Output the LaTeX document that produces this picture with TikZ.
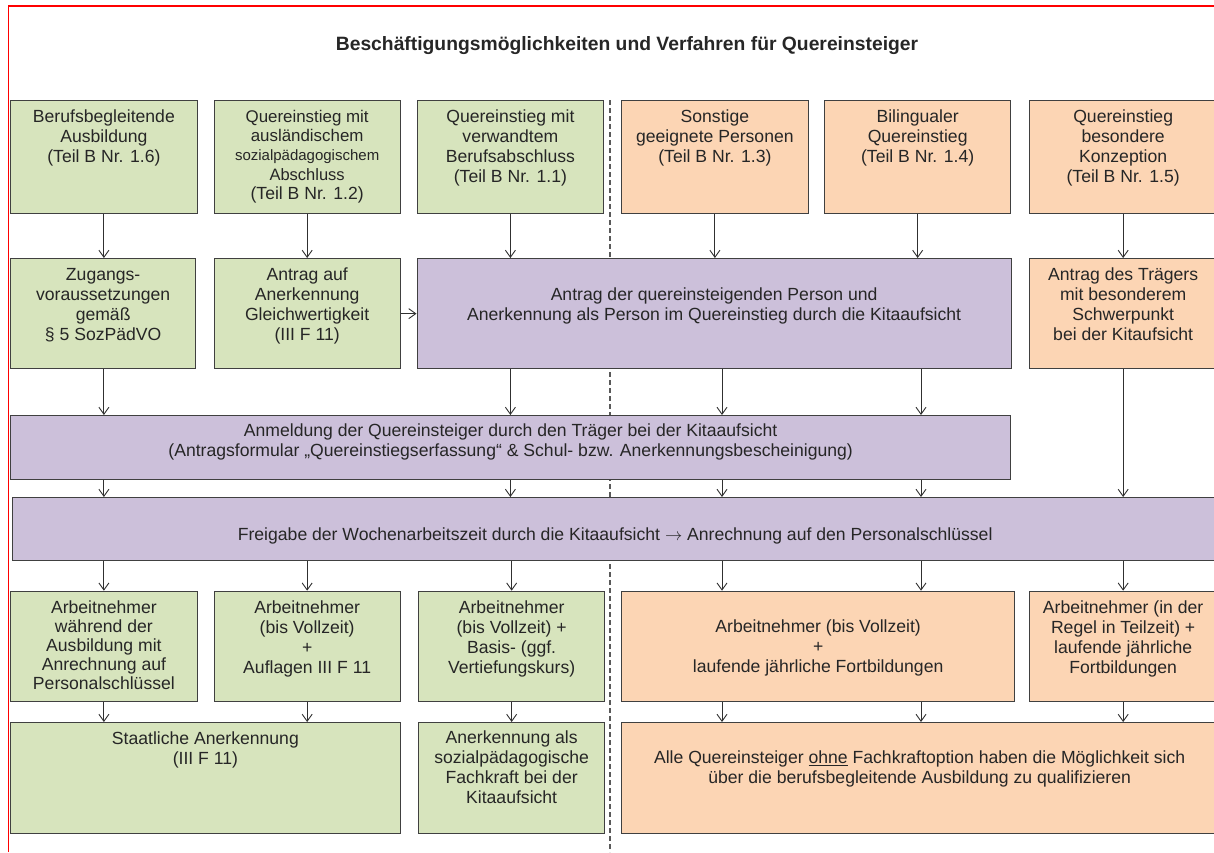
\documentclass[tikz,border=0pt]{standalone}
\usepackage{fontspec}
\setmainfont{Liberation Sans}
\usepackage{tikz}
\usetikzlibrary{positioning,arrows.meta}

\definecolor{gruen}{HTML}{D7E4BD}
\definecolor{apricot}{HTML}{FCD5B4}
\definecolor{lila}{HTML}{CCC0DA}
\definecolor{rahmen}{HTML}{404040}
\definecolor{pfeilgrau}{HTML}{303030}

\begin{document}
\begin{tikzpicture}[x=1pt,y=-1pt,
  kasten/.style={draw=rahmen, line width=1.3pt, inner sep=0pt, anchor=north west},
  gbox/.style={kasten, fill=gruen},
  obox/.style={kasten, fill=apricot},
  lbox/.style={kasten, fill=lila},
  txt/.style={align=center, inner sep=0pt, text=black!85,
    font=\fontsize{17.6}{20}\selectfont, execute at begin node=\strut},
  pfeil/.style={draw=pfeilgrau, line width=0.9pt, -{Straight Barb[length=7pt,width=10pt]}},
  trenn/.style={draw=black!65, line width=1.2pt, dash pattern=on 5pt off 3pt}]
  \useasboundingbox (0,0) rectangle (1214,852);

  % roter rand
  \draw[red, line width=1.2pt] (8.5,852) -- (8.5,6) -- (1214,6);

  % trennlinie
  \draw[trenn] (610,100) -- (610,852);

  % titel
  \node[anchor=base, font=\fontsize{19.3}{22}\selectfont\bfseries, text=black!85] (titel) at (627,50.5)
    {Beschäftigungsmöglichkeiten und Verfahren für Quereinsteiger};

  % erste reihe
  \node[gbox, minimum width=186.5pt, minimum height=113pt] (a1) at (10,100) {};
  \node[gbox, minimum width=186pt, minimum height=113pt] (a2) at (213.5,100) {};
  \node[gbox, minimum width=186.5pt, minimum height=113pt] (a3) at (416.5,100) {};
  \node[obox, minimum width=186.5pt, minimum height=113pt] (b1) at (621,100) {};
  \node[obox, minimum width=186pt, minimum height=113pt] (b2) at (824,100) {};
  \node[obox, minimum width=188pt, minimum height=113pt] (b3) at (1028.5,100) {};

  \node[txt, below=10pt of a1.north] (a1t) {Berufsbegleitende\\Ausbildung\\(Teil B Nr. 1.6)};
  \node[txt, below=10pt of a2.north, font=\fontsize{16.9}{19.25}\selectfont] (a2t)
    {Quereinstieg mit\\ausländischem\\{\fontsize{15}{19.25}\selectfont sozialpädagogischem}\\{\fontsize{16.5}{19.25}\selectfont Abschluss}\\{\fontsize{17.6}{19.25}\selectfont (Teil B Nr. 1.2)}};
  \node[txt, below=10pt of a3.north] (a3t) {Quereinstieg mit\\verwandtem\\Berufsabschluss\\(Teil B Nr. 1.1)};
  \node[txt, below=10pt of b1.north] (b1t) {Sonstige\\geeignete Personen\\(Teil B Nr. 1.3)};
  \node[txt, below=10pt of b2.north] (b2t) {Bilingualer\\Quereinstieg\\(Teil B Nr. 1.4)};
  \node[txt, below=10pt of b3.north] (b3t) {Quereinstieg\\besondere\\Konzeption\\(Teil B Nr. 1.5)};

  % zweite reihe
  \node[gbox, minimum width=185pt, minimum height=110pt] (c1) at (10,258) {};
  \node[gbox, minimum width=186pt, minimum height=110pt] (c2) at (213.5,258) {};
  \node[lbox, minimum width=594pt, minimum height=110pt] (c3) at (416.5,258) {};
  \node[obox, minimum width=188pt, minimum height=110pt] (c4) at (1028.5,258) {};

  \node[txt, below=10pt of c1.north] (c1t) {Zugangs-\\voraussetzungen\\gemäß\\§ 5 SozPädVO};
  \node[txt, below=10pt of c2.north] (c2t) {Antrag auf\\Anerkennung\\Gleichwertigkeit\\(III F 11)};
  \node[txt, below=30pt of c3.north] (c3t) {Antrag der quereinsteigenden Person und\\Anerkennung als Person im Quereinstieg durch die Kitaaufsicht};
  \node[txt, below=10pt of c4.north] (c4t) {Antrag des Trägers\\mit besonderem\\Schwerpunkt\\bei der Kitaufsicht};

  % anmeldung und freigabe
  \node[lbox, minimum width=1000pt, minimum height=63.5pt] (d) at (10,415) {};
  \node[txt, below=9pt of d.north] (dt) {Anmeldung der Quereinsteiger durch den Träger bei der Kitaaufsicht\\(Antragsformular „Quereinstiegserfassung“ \& Schul- bzw. Anerkennungsbescheinigung)};
  \node[lbox, minimum width=1205pt, minimum height=63pt] (e) at (12,497) {};
  \node[txt, below=29pt of e.north] (et) {Freigabe der Wochenarbeitszeit durch die Kitaaufsicht $\rightarrow$ Anrechnung auf den Personalschlüssel};

  % dritte reihe
  \node[gbox, minimum width=186.5pt, minimum height=110pt] (f1) at (10,590.7) {};
  \node[gbox, minimum width=186pt, minimum height=110pt] (f2) at (213.5,590.7) {};
  \node[gbox, minimum width=186pt, minimum height=110pt] (f3) at (418,590.7) {};
  \node[obox, minimum width=393pt, minimum height=110pt] (f4) at (621,590.7) {};
  \node[obox, minimum width=188pt, minimum height=110pt] (f5) at (1028.5,590.7) {};

  \node[txt, below=9.5pt of f1.north, font=\fontsize{17.6}{19}\selectfont] (f1t) {Arbeitnehmer\\während der\\Ausbildung mit\\Anrechnung auf\\Personalschlüssel};
  \node[txt, below=9.5pt of f2.north] (f2t) {Arbeitnehmer\\(bis Vollzeit)\\+\\Auflagen III F 11};
  \node[txt, below=9.5pt of f3.north] (f3t) {Arbeitnehmer\\(bis Vollzeit) +\\Basis- (ggf.\\Vertiefungskurs)};
  \node[txt, below=29pt of f4.north] (f4t) {Arbeitnehmer (bis Vollzeit)\\+\\laufende jährliche Fortbildungen};
  \node[txt, below=9.5pt of f5.north] (f5t) {Arbeitnehmer (in der\\Regel in Teilzeit) +\\laufende jährliche\\Fortbildungen};

  % letzte reihe
  \node[gbox, minimum width=389.5pt, minimum height=111pt] (g1) at (10,722) {};
  \node[gbox, minimum width=186pt, minimum height=111pt] (g2) at (418,722) {};
  \node[obox, minimum width=596pt, minimum height=111pt] (g3) at (621,722) {};

  \node[txt, below=10pt of g1.north] (g1t) {Staatliche Anerkennung\\(III F 11)};
  \node[txt, below=9pt of g2.north] (g2t) {Anerkennung als\\sozialpädagogische\\Fachkraft bei der\\Kitaaufsicht};
  \node[txt, below=29pt of g3.north] (g3t) {Alle Quereinsteiger \underline{ohne} Fachkraftoption haben die Möglichkeit sich\\über die berufsbegleitende Ausbildung zu qualifizieren};

  % spalten rechts unten
  \coordinate (s1) at (722,0);
  \coordinate (s2) at (921,0);

  % pfeile
  \draw[pfeil] (a1.south) -- (a1.south |- c1.north);
  \draw[pfeil] (a2.south) -- (a2.south |- c2.north);
  \draw[pfeil] (a3.south) -- (a3.south |- c3.north);
  \draw[pfeil] (b1.south) -- (b1.south |- c3.north);
  \draw[pfeil] (b2.south) -- (b2.south |- c3.north);
  \draw[pfeil] (b3.south) -- (b3.south |- c4.north);
  \draw[pfeil] (c2.east) -- (c2.east -| c3.west);

  \draw[pfeil] (a1.south |- c1.south) -- (a1.south |- d.north);
  \draw[pfeil] (a3.south |- c3.south) -- (a3.south |- d.north);
  \draw[pfeil] (s1 |- c3.south) -- (s1 |- d.north);
  \draw[pfeil] (s2 |- c3.south) -- (s2 |- d.north);
  \draw[pfeil] (b3.south |- c4.south) -- (b3.south |- e.north);

  \draw[pfeil] (a1.south |- d.south) -- (a1.south |- e.north);
  \draw[pfeil] (a3.south |- d.south) -- (a3.south |- e.north);
  \draw[pfeil] (s1 |- d.south) -- (s1 |- e.north);
  \draw[pfeil] (s2 |- d.south) -- (s2 |- e.north);

  \draw[pfeil] (f1.north |- e.south) -- (f1.north);
  \draw[pfeil] (f2.north |- e.south) -- (f2.north);
  \draw[pfeil] (f3.north |- e.south) -- (f3.north);
  \draw[pfeil] (s1 |- e.south) -- (s1 |- f4.north);
  \draw[pfeil] (s2 |- e.south) -- (s2 |- f4.north);
  \draw[pfeil] (b3.south |- e.south) -- (b3.south |- f5.north);

  \draw[pfeil] (f1.south) -- (f1.south |- g1.north);
  \draw[pfeil] (f2.south) -- (f2.south |- g1.north);
  \draw[pfeil] (f3.south) -- (f3.south |- g2.north);
  \draw[pfeil] (s1 |- f4.south) -- (s1 |- g3.north);
  \draw[pfeil] (s2 |- f4.south) -- (s2 |- g3.north);
  \draw[pfeil] (f5.south) -- (f5.south |- g3.north);
\end{tikzpicture}
\end{document}
